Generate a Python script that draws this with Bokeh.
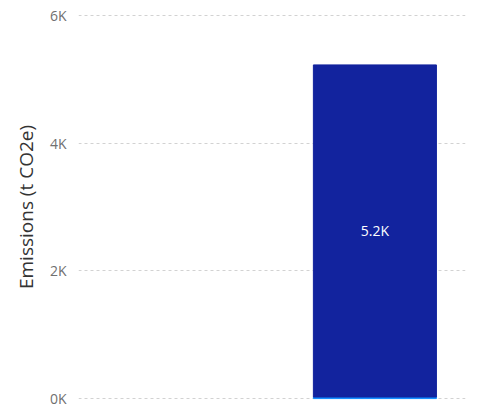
from bokeh.plotting import figure
from bokeh.models import ColumnDataSource, Range1d, FixedTicker, LabelSet
from bokeh.core.properties import value
from bokeh.embed import file_html
from bokeh.resources import INLINE

# Data
categories = [0]
series_a = [25]        # small light-blue segment at the bottom
series_b = [5200]      # main dark-blue segment
bar_labels = ["5.2K"]
y_ticks = [0, 2000, 4000, 6000]
y_tick_labels = ["0K", "2K", "4K", "6K"]

bottom_b = [a for a in series_a]
top_b = [a + b for a, b in zip(series_a, series_b)]
mid_b = [(lo + hi) / 2 for lo, hi in zip(bottom_b, top_b)]

src = ColumnDataSource(dict(x=categories, a=series_a, b0=bottom_b, b1=top_b,
                            mid=mid_b, lab=bar_labels))

p = figure(width=477, height=414, output_backend="svg", toolbar_location=None,
           x_range=Range1d(-1.927, 0.589), y_range=Range1d(-30, 6030),
           min_border_left=78, min_border_right=12, min_border_top=13,
           min_border_bottom=14)

p.vbar(x="x", bottom=0, top="a", width=0.8, color="#118DFF", source=src)
p.vbar(x="x", bottom="b0", top="b1", width=0.8, color="#12239E", source=src)

labels = LabelSet(x="x", y="mid", text="lab", source=src, text_color="white",
                  text_align="center", text_baseline="middle",
                  text_font_size="14px", text_font=value("Open Sans"))
p.add_layout(labels)

p.xaxis.visible = False
p.xgrid.visible = False
p.ygrid.grid_line_color = "#d2d2d2"
p.ygrid.grid_line_dash = "3 3"
p.ygrid.grid_line_width = 1

yax = p.yaxis[0]
yax.ticker = FixedTicker(ticks=y_ticks)
yax.major_label_overrides = {t: l for t, l in zip(y_ticks, y_tick_labels)}
yax.axis_line_color = None
yax.major_tick_line_color = None
yax.minor_tick_line_color = None
yax.major_label_standoff = 6
yax.major_label_text_color = "#707070"
yax.major_label_text_font = "Open Sans"
yax.major_label_text_font_size = "14px"
yax.axis_label = "Emissions (t CO2e)"
yax.axis_label_text_font = "Open Sans"
yax.axis_label_text_font_size = "19px"
yax.axis_label_text_font_style = "normal"
yax.axis_label_text_color = "#333333"
yax.axis_label_standoff = 8

p.outline_line_color = None
p.background_fill_color = "white"
p.border_fill_color = "white"

open("out.html", "w").write(file_html(p, INLINE))
